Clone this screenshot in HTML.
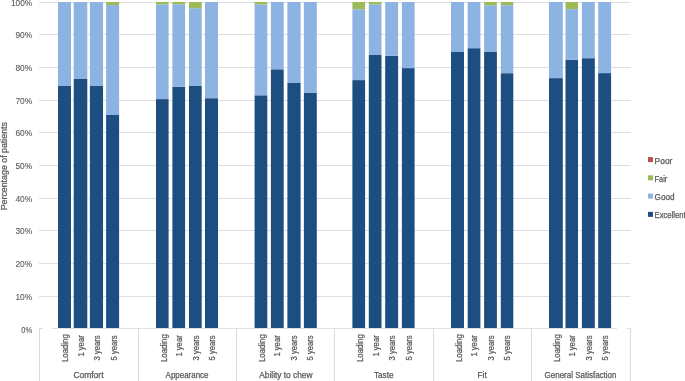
<!DOCTYPE html><html><head><meta charset="utf-8"><style>html,body{margin:0;padding:0;background:#fff;}body{width:685px;height:381px;overflow:hidden;}svg{display:block;will-change:transform;font-family:"Liberation Sans",sans-serif;}text{stroke:#595959;stroke-width:0.25px;}</style></head><body>
<svg width="685" height="381" viewBox="0 0 685 381">
<rect width="685" height="381" fill="#fff"/>
<rect x="39" y="2" width="591.5" height="1" fill="#DDDDE4"/>
<rect x="39" y="34" width="591.5" height="1" fill="#DDDDE4"/>
<rect x="39" y="67" width="591.5" height="1" fill="#DDDDE4"/>
<rect x="39" y="100" width="591.5" height="1" fill="#DDDDE4"/>
<rect x="39" y="132" width="591.5" height="1" fill="#DDDDE4"/>
<rect x="39" y="165" width="591.5" height="1" fill="#DDDDE4"/>
<rect x="39" y="198" width="591.5" height="1" fill="#DDDDE4"/>
<rect x="39" y="230" width="591.5" height="1" fill="#DDDDE4"/>
<rect x="39" y="263" width="591.5" height="1" fill="#DDDDE4"/>
<rect x="39" y="296" width="591.5" height="1" fill="#DDDDE4"/>
<rect x="58" y="86" width="13" height="242" fill="#1C4E82"/>
<rect x="58" y="2" width="13" height="84" fill="#8DB3E2"/>
<rect x="73.7" y="79" width="13.6" height="249" fill="#1C4E82"/>
<rect x="73.7" y="2" width="13.6" height="77" fill="#8DB3E2"/>
<rect x="89.9" y="86" width="13.15" height="242" fill="#1C4E82"/>
<rect x="89.9" y="2" width="13.15" height="84" fill="#8DB3E2"/>
<rect x="106.1" y="115" width="13" height="213" fill="#1C4E82"/>
<rect x="106.1" y="5.1" width="13" height="109.9" fill="#8DB3E2"/>
<rect x="106.1" y="2" width="13" height="3.1" fill="#9BBB59"/>
<rect x="156" y="99.1" width="12.6" height="228.9" fill="#1C4E82"/>
<rect x="156" y="4.3" width="12.6" height="94.8" fill="#8DB3E2"/>
<rect x="156" y="2" width="12.6" height="2.3" fill="#9BBB59"/>
<rect x="172.4" y="86.8" width="12.7" height="241.2" fill="#1C4E82"/>
<rect x="172.4" y="4.3" width="12.7" height="82.5" fill="#8DB3E2"/>
<rect x="172.4" y="2" width="12.7" height="2.3" fill="#9BBB59"/>
<rect x="189" y="86" width="12.7" height="242" fill="#1C4E82"/>
<rect x="189" y="8.2" width="12.7" height="77.8" fill="#8DB3E2"/>
<rect x="189" y="2" width="12.7" height="6.2" fill="#9BBB59"/>
<rect x="205" y="98.2" width="13" height="229.8" fill="#1C4E82"/>
<rect x="205" y="2" width="13" height="96.2" fill="#8DB3E2"/>
<rect x="254.6" y="95.3" width="12.7" height="232.7" fill="#1C4E82"/>
<rect x="254.6" y="4.4" width="12.7" height="90.9" fill="#8DB3E2"/>
<rect x="254.6" y="2" width="12.7" height="2.4" fill="#9BBB59"/>
<rect x="270.9" y="69.3" width="12.8" height="258.7" fill="#1C4E82"/>
<rect x="270.9" y="2" width="12.8" height="67.3" fill="#8DB3E2"/>
<rect x="287.4" y="83" width="13.2" height="245" fill="#1C4E82"/>
<rect x="287.4" y="2" width="13.2" height="81" fill="#8DB3E2"/>
<rect x="303.9" y="92.6" width="12.9" height="235.4" fill="#1C4E82"/>
<rect x="303.9" y="2" width="12.9" height="90.6" fill="#8DB3E2"/>
<rect x="352.4" y="80.1" width="12.7" height="247.9" fill="#1C4E82"/>
<rect x="352.4" y="9.3" width="12.7" height="70.8" fill="#8DB3E2"/>
<rect x="352.4" y="2" width="12.7" height="7.3" fill="#9BBB59"/>
<rect x="368.8" y="55" width="12.7" height="273" fill="#1C4E82"/>
<rect x="368.8" y="4.4" width="12.7" height="50.6" fill="#8DB3E2"/>
<rect x="368.8" y="2" width="12.7" height="2.4" fill="#9BBB59"/>
<rect x="385.2" y="55.8" width="12.9" height="272.2" fill="#1C4E82"/>
<rect x="385.2" y="2" width="12.9" height="53.8" fill="#8DB3E2"/>
<rect x="401.9" y="68.1" width="12.7" height="259.9" fill="#1C4E82"/>
<rect x="401.9" y="2" width="12.7" height="66.1" fill="#8DB3E2"/>
<rect x="451" y="52" width="13" height="276" fill="#1C4E82"/>
<rect x="451" y="2" width="13" height="50" fill="#8DB3E2"/>
<rect x="467.7" y="48.2" width="12.7" height="279.8" fill="#1C4E82"/>
<rect x="467.7" y="2" width="12.7" height="46.2" fill="#8DB3E2"/>
<rect x="484.1" y="52" width="12.8" height="276" fill="#1C4E82"/>
<rect x="484.1" y="5.3" width="12.8" height="46.7" fill="#8DB3E2"/>
<rect x="484.1" y="2" width="12.8" height="3.3" fill="#9BBB59"/>
<rect x="500.8" y="73.2" width="12.5" height="254.8" fill="#1C4E82"/>
<rect x="500.8" y="5.3" width="12.5" height="67.9" fill="#8DB3E2"/>
<rect x="500.8" y="2" width="12.5" height="3.3" fill="#9BBB59"/>
<rect x="549" y="78.1" width="13.8" height="249.9" fill="#1C4E82"/>
<rect x="549" y="2" width="13.8" height="76.1" fill="#8DB3E2"/>
<rect x="565.5" y="59.9" width="12.5" height="268.1" fill="#1C4E82"/>
<rect x="565.5" y="9.1" width="12.5" height="50.8" fill="#8DB3E2"/>
<rect x="565.5" y="2" width="12.5" height="7.1" fill="#9BBB59"/>
<rect x="581.9" y="58.2" width="12.9" height="269.8" fill="#1C4E82"/>
<rect x="581.9" y="2" width="12.9" height="56.2" fill="#8DB3E2"/>
<rect x="598.2" y="73.1" width="12.9" height="254.9" fill="#1C4E82"/>
<rect x="598.2" y="2" width="12.9" height="71.1" fill="#8DB3E2"/>
<rect x="39" y="328" width="4" height="1" fill="#DCDCDC"/>
<rect x="52" y="328" width="565" height="1" fill="#E4DEE4"/>
<rect x="627" y="328" width="3.5" height="1" fill="#DCDCE2"/>
<rect x="39" y="328" width="1" height="53" fill="#DADAE3"/>
<rect x="138" y="328" width="1" height="53" fill="#DADAE3"/>
<rect x="236" y="328" width="1" height="53" fill="#DADAE3"/>
<rect x="334" y="328" width="1" height="53" fill="#DADAE3"/>
<rect x="433" y="328" width="1" height="53" fill="#DADAE3"/>
<rect x="531" y="328" width="1" height="53" fill="#DADAE3"/>
<rect x="630" y="328" width="1" height="53" fill="#DADAE3"/>
<text x="32.2" y="6" style="stroke-width:0.1px" font-size="8.6" fill="#595959" text-anchor="end" textLength="21.3" lengthAdjust="spacingAndGlyphs">100%</text>
<text x="32.2" y="38" style="stroke-width:0.1px" font-size="8.6" fill="#595959" text-anchor="end" textLength="16.8" lengthAdjust="spacingAndGlyphs">90%</text>
<text x="32.2" y="71" style="stroke-width:0.1px" font-size="8.6" fill="#595959" text-anchor="end" textLength="16.8" lengthAdjust="spacingAndGlyphs">80%</text>
<text x="32.2" y="104" style="stroke-width:0.1px" font-size="8.6" fill="#595959" text-anchor="end" textLength="16.8" lengthAdjust="spacingAndGlyphs">70%</text>
<text x="32.2" y="136" style="stroke-width:0.1px" font-size="8.6" fill="#595959" text-anchor="end" textLength="16.8" lengthAdjust="spacingAndGlyphs">60%</text>
<text x="32.2" y="169" style="stroke-width:0.1px" font-size="8.6" fill="#595959" text-anchor="end" textLength="16.8" lengthAdjust="spacingAndGlyphs">50%</text>
<text x="32.2" y="202" style="stroke-width:0.1px" font-size="8.6" fill="#595959" text-anchor="end" textLength="16.8" lengthAdjust="spacingAndGlyphs">40%</text>
<text x="32.2" y="234" style="stroke-width:0.1px" font-size="8.6" fill="#595959" text-anchor="end" textLength="16.8" lengthAdjust="spacingAndGlyphs">30%</text>
<text x="32.2" y="267" style="stroke-width:0.1px" font-size="8.6" fill="#595959" text-anchor="end" textLength="16.8" lengthAdjust="spacingAndGlyphs">20%</text>
<text x="32.2" y="300" style="stroke-width:0.1px" font-size="8.6" fill="#595959" text-anchor="end" textLength="16.8" lengthAdjust="spacingAndGlyphs">10%</text>
<text x="32.2" y="332.6" style="stroke-width:0.1px" font-size="8.6" fill="#595959" text-anchor="end" textLength="10.9" lengthAdjust="spacingAndGlyphs">0%</text>
<text transform="translate(7.0,166.2) rotate(-90)" font-size="8.8" fill="#595959" text-anchor="middle" textLength="88.3" lengthAdjust="spacingAndGlyphs">Percentage of patients</text>
<text transform="translate(68.28,334.2) rotate(-90)" font-size="8.2" fill="#595959" text-anchor="end" textLength="27.9" lengthAdjust="spacingAndGlyphs">Loading</text>
<text transform="translate(83.77,335.3) rotate(-90)" font-size="8.2" fill="#595959" text-anchor="end" textLength="21.3" lengthAdjust="spacingAndGlyphs">1 year</text>
<text transform="translate(100.26,335.3) rotate(-90)" font-size="8.2" fill="#595959" text-anchor="end" textLength="25.1" lengthAdjust="spacingAndGlyphs">3 years</text>
<text transform="translate(116.65,335.3) rotate(-90)" font-size="8.2" fill="#595959" text-anchor="end" textLength="25.1" lengthAdjust="spacingAndGlyphs">5 years</text>
<text x="88.45" y="377.8" font-size="8.2" fill="#595959" text-anchor="middle" textLength="30.1" lengthAdjust="spacingAndGlyphs">Comfort</text>
<text transform="translate(166.62,334.2) rotate(-90)" font-size="8.2" fill="#595959" text-anchor="end" textLength="27.9" lengthAdjust="spacingAndGlyphs">Loading</text>
<text transform="translate(182.11,335.3) rotate(-90)" font-size="8.2" fill="#595959" text-anchor="end" textLength="21.3" lengthAdjust="spacingAndGlyphs">1 year</text>
<text transform="translate(198.6,335.3) rotate(-90)" font-size="8.2" fill="#595959" text-anchor="end" textLength="25.1" lengthAdjust="spacingAndGlyphs">3 years</text>
<text transform="translate(214.99,335.3) rotate(-90)" font-size="8.2" fill="#595959" text-anchor="end" textLength="25.1" lengthAdjust="spacingAndGlyphs">5 years</text>
<text x="187.05" y="377.8" font-size="8.2" fill="#595959" text-anchor="middle" textLength="42.9" lengthAdjust="spacingAndGlyphs">Appearance</text>
<text transform="translate(264.95,334.2) rotate(-90)" font-size="8.2" fill="#595959" text-anchor="end" textLength="27.9" lengthAdjust="spacingAndGlyphs">Loading</text>
<text transform="translate(280.44,335.3) rotate(-90)" font-size="8.2" fill="#595959" text-anchor="end" textLength="21.3" lengthAdjust="spacingAndGlyphs">1 year</text>
<text transform="translate(296.94,335.3) rotate(-90)" font-size="8.2" fill="#595959" text-anchor="end" textLength="25.1" lengthAdjust="spacingAndGlyphs">3 years</text>
<text transform="translate(313.32,335.3) rotate(-90)" font-size="8.2" fill="#595959" text-anchor="end" textLength="25.1" lengthAdjust="spacingAndGlyphs">5 years</text>
<text x="285.9" y="377.8" font-size="8.2" fill="#595959" text-anchor="middle" textLength="53.2" lengthAdjust="spacingAndGlyphs">Ability to chew</text>
<text transform="translate(363.3,334.2) rotate(-90)" font-size="8.2" fill="#595959" text-anchor="end" textLength="27.9" lengthAdjust="spacingAndGlyphs">Loading</text>
<text transform="translate(378.79,335.3) rotate(-90)" font-size="8.2" fill="#595959" text-anchor="end" textLength="21.3" lengthAdjust="spacingAndGlyphs">1 year</text>
<text transform="translate(395.27,335.3) rotate(-90)" font-size="8.2" fill="#595959" text-anchor="end" textLength="25.1" lengthAdjust="spacingAndGlyphs">3 years</text>
<text transform="translate(411.67,335.3) rotate(-90)" font-size="8.2" fill="#595959" text-anchor="end" textLength="25.1" lengthAdjust="spacingAndGlyphs">5 years</text>
<text x="383.7" y="377.8" font-size="8.2" fill="#595959" text-anchor="middle" textLength="19.6" lengthAdjust="spacingAndGlyphs">Taste</text>
<text transform="translate(461.63,334.2) rotate(-90)" font-size="8.2" fill="#595959" text-anchor="end" textLength="27.9" lengthAdjust="spacingAndGlyphs">Loading</text>
<text transform="translate(477.13,335.3) rotate(-90)" font-size="8.2" fill="#595959" text-anchor="end" textLength="21.3" lengthAdjust="spacingAndGlyphs">1 year</text>
<text transform="translate(493.62,335.3) rotate(-90)" font-size="8.2" fill="#595959" text-anchor="end" textLength="25.1" lengthAdjust="spacingAndGlyphs">3 years</text>
<text transform="translate(510,335.3) rotate(-90)" font-size="8.2" fill="#595959" text-anchor="end" textLength="25.1" lengthAdjust="spacingAndGlyphs">5 years</text>
<text x="482.1" y="377.8" font-size="8.2" fill="#595959" text-anchor="middle" textLength="9.2" lengthAdjust="spacingAndGlyphs">Fit</text>
<text transform="translate(559.98,334.2) rotate(-90)" font-size="8.2" fill="#595959" text-anchor="end" textLength="27.9" lengthAdjust="spacingAndGlyphs">Loading</text>
<text transform="translate(575.47,335.3) rotate(-90)" font-size="8.2" fill="#595959" text-anchor="end" textLength="21.3" lengthAdjust="spacingAndGlyphs">1 year</text>
<text transform="translate(591.96,335.3) rotate(-90)" font-size="8.2" fill="#595959" text-anchor="end" textLength="25.1" lengthAdjust="spacingAndGlyphs">3 years</text>
<text transform="translate(608.35,335.3) rotate(-90)" font-size="8.2" fill="#595959" text-anchor="end" textLength="25.1" lengthAdjust="spacingAndGlyphs">5 years</text>
<text x="580.55" y="377.8" font-size="8.2" fill="#595959" text-anchor="middle" textLength="71.9" lengthAdjust="spacingAndGlyphs">General Satisfaction</text>
<rect x="648" y="157.1" width="5" height="5" fill="#C0504D"/>
<text x="654.6" y="163.6" font-size="8.2" fill="#595959" textLength="17.8" lengthAdjust="spacingAndGlyphs">Poor</text>
<rect x="648" y="175.35" width="5" height="5" fill="#9BBB59"/>
<text x="654.6" y="181.85" font-size="8.2" fill="#595959" textLength="12.6" lengthAdjust="spacingAndGlyphs">Fair</text>
<rect x="648" y="193.6" width="5" height="5" fill="#8DB3E2"/>
<text x="654.6" y="200.1" font-size="8.2" fill="#595959" textLength="20" lengthAdjust="spacingAndGlyphs">Good</text>
<rect x="648" y="211.85" width="5" height="5" fill="#1C4E82"/>
<text x="654.6" y="218.35" font-size="8.2" fill="#595959" textLength="31" lengthAdjust="spacingAndGlyphs">Excellent</text>
</svg></body></html>
